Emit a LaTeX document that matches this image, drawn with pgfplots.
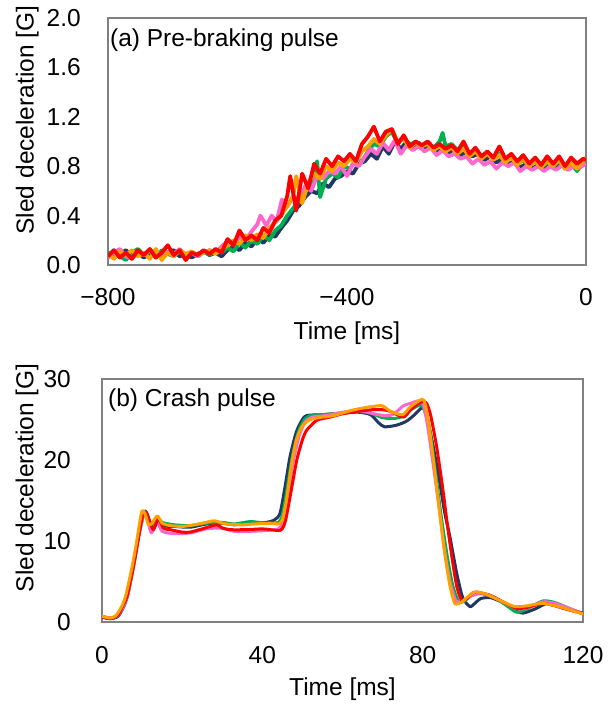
\documentclass[border=0pt]{standalone}
\usepackage{fontspec}
\setmainfont{Liberation Sans}
\usepackage{pgfplots}
\pgfplotsset{compat=1.18}
\definecolor{cnavy}{HTML}{1F3864}
\definecolor{cgreen}{HTML}{00B050}
\definecolor{cpink}{HTML}{FF66CC}
\definecolor{corange}{HTML}{FFA000}
\definecolor{cred}{HTML}{FF0000}
\newcommand{\fs}{\fontsize{24.5}{28}\selectfont}
\pgfplotsset{
  common/.style={
    scale only axis,
    anchor=south west,
    major tick length=0pt,
    axis line style={draw=gray, line width=1.3pt},
    tick label style={font=\fs},
    label style={font=\fs},
    yticklabel style={anchor=east, inner sep=0pt},
    xticklabel style={anchor=north, inner sep=0pt},
    ylabel={Sled deceleration [G]},
    xlabel={Time [ms]},
  }
}
\begin{document}
\begin{tikzpicture}[x=1pt,y=1pt]
\path (0,0) rectangle (612,-706);
% ---------------- panel (a)
\begin{axis}[common,
  at={(108pt,-265pt)}, width=478pt, height=247pt,
  xmin=-800, xmax=0, ymin=0, ymax=2,
  xtick={-800,-400,0}, xticklabels={−800,−400,0},
  ytick={0,0.4,0.8,1.2,1.6,2.0}, yticklabels={0.0,0.4,0.8,1.2,1.6,2.0},
  yticklabel style={xshift=-27pt},
  xticklabel style={yshift=-23pt},
  ylabel style={at={(axis description cs:-0.169,0.587)}, anchor=center},
  xlabel style={at={(axis description cs:0.5,0)}, anchor=center, yshift=-68pt},
  every axis plot/.append style={line width=3.8pt, line join=round},
]
\addplot[cnavy] coordinates {(-800,0.10)(-790,0.06)(-780,0.09)(-770,0.12)(-760,0.07)(-750,0.10)(-740,0.06)(-730,0.09)(-720,0.11)(-710,0.07)(-700,0.10)(-690,0.12)(-680,0.07)(-670,0.09)(-660,0.06)(-650,0.09)(-640,0.11)(-630,0.08)(-620,0.10)(-610,0.07)(-600,0.12)(-590,0.15)(-580,0.12)(-570,0.18)(-560,0.15)(-550,0.21)(-540,0.18)(-530,0.24)(-520,0.23)(-510,0.30)(-500,0.36)(-490,0.44)(-480,0.48)(-470,0.55)(-460,0.60)(-450,0.58)(-440,0.66)(-430,0.63)(-420,0.70)(-410,0.72)(-400,0.76)(-390,0.74)(-380,0.82)(-370,0.84)(-360,0.90)(-350,0.86)(-340,0.96)(-330,0.90)(-320,1.00)(-310,0.94)(-300,1.00)(-290,0.96)(-280,0.99)(-270,0.94)(-260,0.97)(-250,0.92)(-240,0.95)(-230,0.91)(-220,0.94)(-210,0.89)(-200,0.92)(-190,0.88)(-180,0.90)(-170,0.85)(-160,0.88)(-150,0.83)(-140,0.86)(-130,0.82)(-120,0.84)(-110,0.79)(-100,0.82)(-90,0.78)(-80,0.81)(-70,0.77)(-60,0.82)(-50,0.79)(-40,0.83)(-30,0.78)(-20,0.82)(-10,0.80)(0,0.83)};
\addplot[cgreen] coordinates {(-800,0.08)(-790,0.12)(-780,0.07)(-770,0.04)(-760,0.10)(-750,0.13)(-740,0.08)(-730,0.11)(-720,0.06)(-710,0.12)(-700,0.09)(-690,0.07)(-680,0.11)(-670,0.08)(-660,0.10)(-650,0.07)(-640,0.11)(-630,0.08)(-620,0.12)(-610,0.10)(-600,0.14)(-590,0.11)(-580,0.18)(-570,0.14)(-560,0.20)(-550,0.17)(-540,0.24)(-530,0.20)(-520,0.28)(-510,0.32)(-500,0.40)(-490,0.46)(-480,0.52)(-470,0.60)(-460,0.66)(-450,0.84)(-445,0.55)(-435,0.70)(-425,0.74)(-415,0.71)(-405,0.80)(-395,0.78)(-385,0.86)(-375,0.84)(-365,0.92)(-355,0.98)(-345,0.96)(-335,1.04)(-325,1.08)(-315,0.98)(-305,1.04)(-295,0.97)(-285,1.00)(-275,0.96)(-265,0.99)(-255,0.95)(-245,1.00)(-240,1.07)(-235,0.96)(-225,0.98)(-215,0.93)(-205,0.97)(-195,0.90)(-185,0.94)(-175,0.88)(-165,0.91)(-155,0.86)(-145,0.90)(-135,0.84)(-125,0.88)(-115,0.82)(-105,0.85)(-95,0.80)(-85,0.84)(-75,0.79)(-65,0.83)(-55,0.80)(-45,0.84)(-35,0.78)(-25,0.82)(-15,0.76)(-5,0.83)(0,0.84)};
\addplot[cpink] coordinates {(-800,0.06)(-790,0.10)(-780,0.13)(-770,0.07)(-760,0.05)(-750,0.10)(-740,0.08)(-730,0.12)(-720,0.09)(-710,0.06)(-700,0.11)(-690,0.09)(-680,0.13)(-670,0.08)(-660,0.10)(-650,0.07)(-640,0.10)(-630,0.12)(-620,0.10)(-610,0.15)(-600,0.19)(-590,0.16)(-580,0.23)(-570,0.20)(-560,0.27)(-550,0.33)(-545,0.40)(-535,0.32)(-526,0.40)(-518,0.35)(-509,0.53)(-500,0.47)(-490,0.56)(-480,0.52)(-470,0.64)(-460,0.60)(-450,0.72)(-440,0.70)(-430,0.76)(-420,0.74)(-410,0.80)(-400,0.72)(-390,0.82)(-380,0.80)(-370,0.88)(-360,0.94)(-350,0.90)(-340,0.99)(-330,0.93)(-320,1.01)(-310,0.90)(-300,0.97)(-290,0.93)(-280,0.96)(-270,0.92)(-260,0.95)(-250,0.89)(-240,0.93)(-230,0.88)(-220,0.90)(-210,0.86)(-200,0.88)(-190,0.82)(-180,0.86)(-170,0.81)(-160,0.84)(-150,0.78)(-140,0.83)(-130,0.80)(-120,0.83)(-110,0.76)(-100,0.80)(-90,0.77)(-80,0.80)(-70,0.76)(-60,0.80)(-50,0.77)(-40,0.81)(-30,0.77)(-20,0.80)(-10,0.79)(0,0.82)};
\addplot[corange] coordinates {(-800,0.09)(-790,0.05)(-780,0.11)(-770,0.08)(-760,0.12)(-750,0.07)(-740,0.10)(-730,0.05)(-720,0.13)(-710,0.04)(-700,0.10)(-690,0.07)(-680,0.12)(-670,0.09)(-660,0.11)(-650,0.08)(-640,0.10)(-630,0.12)(-620,0.09)(-610,0.13)(-600,0.16)(-590,0.20)(-580,0.17)(-570,0.24)(-560,0.20)(-550,0.25)(-540,0.22)(-530,0.30)(-520,0.35)(-510,0.40)(-500,0.48)(-490,0.56)(-485,0.72)(-475,0.50)(-465,0.66)(-455,0.74)(-445,0.70)(-435,0.80)(-425,0.76)(-415,0.83)(-405,0.80)(-395,0.86)(-385,0.83)(-375,0.92)(-365,0.96)(-355,1.02)(-345,0.98)(-335,1.05)(-325,1.10)(-315,1.00)(-305,1.02)(-295,0.95)(-285,0.99)(-275,0.96)(-265,0.98)(-255,0.93)(-245,0.96)(-235,0.92)(-225,0.95)(-215,0.90)(-205,0.94)(-195,0.88)(-185,0.92)(-175,0.86)(-165,0.90)(-155,0.85)(-145,0.89)(-135,0.83)(-125,0.87)(-115,0.81)(-105,0.86)(-95,0.80)(-85,0.84)(-75,0.79)(-65,0.84)(-55,0.80)(-45,0.85)(-35,0.78)(-25,0.83)(-15,0.78)(-5,0.84)(0,0.87)};
\addplot[cred] coordinates {(-800,0.07)(-790,0.12)(-780,0.06)(-770,0.10)(-760,0.05)(-750,0.12)(-740,0.08)(-730,0.13)(-720,0.06)(-710,0.10)(-700,0.16)(-690,0.08)(-680,0.12)(-670,0.04)(-660,0.10)(-650,0.08)(-640,0.12)(-630,0.09)(-620,0.13)(-610,0.10)(-600,0.21)(-590,0.16)(-580,0.28)(-570,0.20)(-560,0.24)(-550,0.20)(-540,0.30)(-530,0.26)(-520,0.36)(-510,0.40)(-500,0.56)(-495,0.72)(-485,0.44)(-475,0.74)(-465,0.62)(-455,0.82)(-445,0.74)(-435,0.86)(-425,0.80)(-415,0.88)(-405,0.84)(-395,0.90)(-385,0.84)(-375,0.98)(-365,1.04)(-355,1.12)(-345,1.00)(-335,1.08)(-325,1.10)(-315,0.98)(-305,1.05)(-295,0.96)(-285,1.00)(-275,0.97)(-265,1.00)(-255,0.95)(-245,0.98)(-235,0.94)(-225,0.97)(-215,0.92)(-205,1.00)(-195,0.90)(-185,0.95)(-175,0.88)(-165,0.92)(-155,0.87)(-145,0.96)(-135,0.86)(-125,0.90)(-115,0.84)(-105,0.89)(-95,0.82)(-85,0.87)(-75,0.81)(-65,0.88)(-55,0.82)(-45,0.88)(-35,0.80)(-25,0.87)(-15,0.82)(-5,0.86)(0,0.85)};
\node[anchor=base west, font=\fs, inner sep=0pt] at (rel axis cs:0.004,0.883) {(a) Pre-braking pulse};
\end{axis}
% ---------------- panel (b)
\begin{axis}[common,
  at={(102pt,-622pt)}, width=481pt, height=243pt,
  xmin=0, xmax=120, ymin=0, ymax=30,
  xtick={0,40,80,120}, xticklabels={0,40,80,120},
  ytick={0,10,20,30}, yticklabels={0,10,20,30},
  yticklabel style={xshift=-31pt},
  xticklabel style={yshift=-24pt},
  ylabel style={at={(axis description cs:-0.156,0.593)}, anchor=center},
  xlabel style={at={(axis description cs:0.5,0)}, anchor=center, yshift=-67pt},
  every axis plot/.append style={line width=3pt, line join=round, smooth, tension=0.4},
]
\addplot[cnavy] coordinates {(0,0.6)(2,0.4)(4,0.7)(5.5,2.0)(6.5,3.5)(8,7.5)(9,10.5)(10.5,13.6)(11.3,13.3)(12.3,11.5)(13.8,12.7)(15,11.9)(18,11.8)(22,11.7)(26,12.1)(30,12.2)(33,12.0)(37,12.2)(41,12.3)(43,12.6)(44.4,13.4)(45.6,16.5)(46.9,20.4)(48.5,23.5)(50,25.0)(51.1,25.5)(55,25.6)(60,25.8)(64,25.9)(67,25.6)(69,24.6)(70.5,24.1)(73.5,24.3)(76,24.8)(78,25.6)(80.2,26.6)(81,25.5)(82.5,22)(84,18)(85.5,13.5)(86.8,10.5)(88.5,6.0)(90,3.0)(91.8,1.9)(93,2.3)(94.5,2.9)(97,3.0)(100,2.4)(103,1.5)(105,1.1)(108,1.6)(111,2.3)(114,2.1)(117,1.5)(120,1.1)};
\addplot[cgreen] coordinates {(0,0.7)(2,0.5)(4,0.8)(5.5,2.2)(6.5,3.6)(8,7.2)(9,10.2)(10.5,13.5)(11.3,13.2)(12.3,11.8)(13.8,12.9)(15,12.3)(18,12.0)(22,11.9)(26,12.2)(30,12.3)(33,12.1)(37,12.4)(41,12.2)(44,12.3)(45,13.2)(46.2,16.5)(47.5,20.5)(49,23.5)(50.5,25.0)(52,25.5)(55,25.6)(60,25.8)(64,26.0)(67,25.8)(69.5,25.3)(72,25.1)(74.5,25.3)(77,26.2)(79.5,26.8)(80.5,26.0)(81.8,23.5)(83.2,18.5)(84.5,13.5)(86,8.5)(87.5,4.5)(89,2.5)(90.5,2.6)(92.5,3.4)(95,3.5)(98,3.0)(101,2.0)(103.5,1.2)(106,1.6)(110,2.6)(113,2.4)(117,1.6)(120,1.0)};
\addplot[cpink] coordinates {(0,0.7)(2,0.5)(4,0.8)(5.5,2.1)(6.5,3.5)(8,7.3)(9,10.3)(10.5,13.4)(11.3,12.8)(12.3,11.0)(13.8,12.3)(15,11.2)(18,10.9)(22,11.0)(26,11.5)(30,11.6)(33,11.2)(37,11.2)(41,11.3)(44,11.5)(45,12.3)(46.4,15.5)(47.7,19.8)(49.2,23.0)(50.7,24.7)(52.5,25.3)(56,25.5)(60,25.9)(64,26.1)(67,25.8)(70,25.5)(72.5,25.6)(75.2,26.7)(77,27.0)(78.9,27.3)(80.2,26.8)(81.3,24.0)(82.6,19.5)(84,14.5)(85.4,9.0)(86.8,5.0)(88.3,2.6)(90,2.6)(92,3.2)(94.5,3.5)(97.5,3.1)(101,2.2)(104,1.6)(107,1.9)(110,2.5)(113,2.3)(117,1.6)(120,1.0)};
\addplot[cred] coordinates {(0,0.65)(2,0.45)(4,0.85)(5,1.8)(6.2,3.1)(7.5,6.0)(8.6,8.9)(9.5,11.5)(10.3,13.4)(11,13.5)(11.5,13.0)(12.8,11.4)(14.1,12.8)(15.3,11.6)(17,11.4)(20,11.1)(22,11.1)(25,11.5)(28.6,12.0)(30,11.6)(31.9,11.4)(36,11.4)(40,11.5)(42,11.4)(44.4,11.3)(45.3,11.8)(46,13.0)(47.3,16.5)(48.6,20)(50,22.5)(51.1,23.7)(53.6,24.9)(56.9,25.3)(60,25.7)(63.6,26.0)(67,26.2)(70.2,26.2)(72,26.0)(75.2,25.3)(77,26.2)(79,27.0)(80.2,27.2)(81,27.0)(82,25.5)(83.5,21.6)(85,16.5)(86,12.6)(87.3,8.0)(88.5,4.4)(89.7,2.7)(91,2.9)(92.5,3.6)(93.5,3.7)(96.8,3.3)(100,2.5)(103.4,1.7)(106,1.8)(110,2.3)(113,2.0)(115,1.7)(118,1.3)(120,1.07)};
\addplot[corange] coordinates {(0,0.7)(2,0.5)(3.5,0.8)(5,2.0)(6,3.4)(7.5,6.8)(8.5,9.5)(9.9,13.6)(10.8,13.3)(11.6,12.0)(12.5,12.2)(13.8,13.1)(15,12.2)(17,11.9)(20,11.8)(23,12.0)(26,12.3)(28,12.5)(31,12.1)(35,12.0)(38,12.1)(42,12.2)(44,12.1)(45,12.6)(46,15.0)(47.3,19.5)(48.5,22.5)(50,24.2)(52,25.0)(55,25.3)(58,25.5)(62,26.1)(66,26.5)(69.8,26.7)(72,26.0)(75,25.6)(77,26.6)(79.8,27.5)(80.6,27.0)(81.5,24.5)(82.8,19.5)(84,14.5)(85.5,8.5)(86.8,4.5)(88,2.3)(89.5,2.4)(91,3.0)(93,3.7)(96,3.4)(100,2.5)(103,1.9)(106,2.0)(110,2.3)(114,1.9)(118,1.3)(120,1.0)};
\node[anchor=base west, font=\fs, inner sep=0pt] at (rel axis cs:0.0125,0.885) {(b) Crash pulse};
\end{axis}
\end{tikzpicture}
\end{document}
